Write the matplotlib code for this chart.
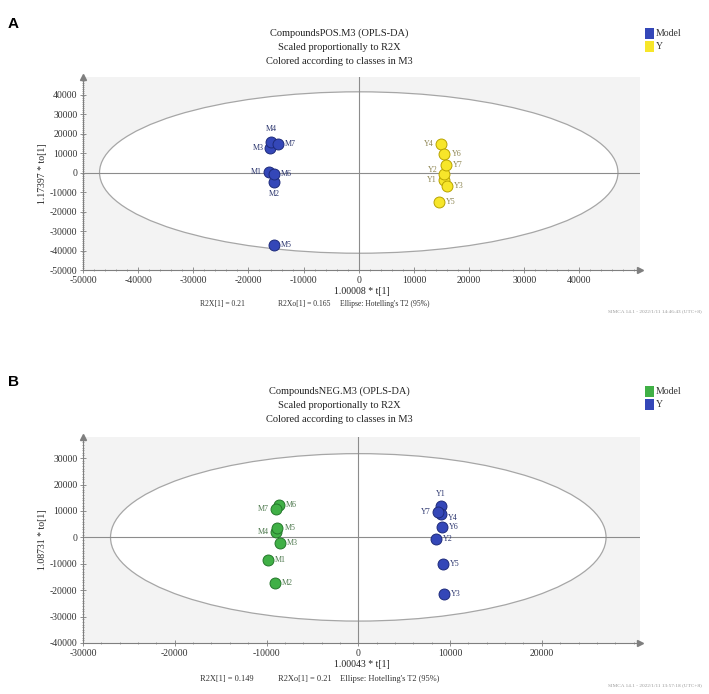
import matplotlib
matplotlib.use("Agg")
import matplotlib.pyplot as plt
from matplotlib.patches import Ellipse
from matplotlib.ticker import MultipleLocator, AutoMinorLocator

# ---------------- data ----------------
# Panel A (POS)
a_model_labels = ["M1", "M2", "M3", "M4", "M5", "M6", "M7"]
a_model_t = [-16300, -15340, -16030, -15890, -15340, -15340, -14660]
a_model_to = [170, -4750, 12370, 15760, -37290, -680, 14410]
a_y_labels = ["Y1", "Y2", "Y3", "Y4", "Y5", "Y6", "Y7"]
a_y_t = [15410, 15410, 15960, 14930, 14520, 15550, 15750]
a_y_to = [-4070, -680, -6950, 14580, -14920, 9490, 3900]
a_ellipse = (47000, 41400)  # Hotelling T2 semi-axes

# Panel B (NEG)
b_model_labels = ["M1", "M2", "M3", "M4", "M5", "M6", "M7"]
b_model_t = [-9880, -9050, -8570, -8970, -8810, -8650, -8970]
b_model_to = [-8490, -17250, -2060, 2060, 3600, 12360, 10810]
b_y_labels = ["Y1", "Y2", "Y3", "Y4", "Y5", "Y6", "Y7"]
b_y_t = [8970, 8490, 9370, 8970, 9210, 9130, 8690]
b_y_to = [11710, -770, -21620, 8750, -10170, 3990, 9780]
b_ellipse = (27000, 31700)

# ---------------- style ----------------
SERIF = ["Liberation Serif", "DejaVu Serif"]
plt.rcParams["font.family"] = SERIF
BLUE, BLUE_E = "#3447b8", "#1d2a7a"
YEL, YEL_E = "#f7e62a", "#b8a300"
GRN, GRN_E = "#40b046", "#23772a"
BG = "#f3f3f3"
AXC = "#7f7f7f"

W, H = 709, 694
fig = plt.figure(figsize=(W / 100, H / 100), dpi=100)


def fx(px):
    return px / W


def fy(py):
    return 1 - py / H


# label placement per panel (style only)
place_a_m = {"M1": "l", "M2": "b", "M3": "l", "M4": "t", "M5": "r", "M6": "r", "M7": "r"}
place_a_y = {"Y1": "l", "Y2": "lt", "Y3": "r", "Y4": "l", "Y5": "r", "Y6": "r", "Y7": "r"}
place_b_m = {"M1": "r", "M2": "r", "M3": "r", "M4": "l", "M5": "r", "M6": "r", "M7": "l"}
place_b_y = {"Y1": "t", "Y2": "r", "Y3": "r", "Y4": "rb", "Y5": "r", "Y6": "r", "Y7": "l"}

OFFS = {"r": (5, 0, "left", "center"), "l": (-5, 0, "right", "center"),
        "t": (0, 6, "center", "bottom"), "b": (0, -6, "center", "top"),
        "lt": (-4, 3, "right", "center"), "rb": (5, -3, "left", "center")}


def panel(rect, xlim, ylim, ell, groups, xlabel, ylabel):
    ax = fig.add_axes(rect)
    ax.set_facecolor(BG)
    ax.set_xlim(*xlim)
    ax.set_ylim(*ylim)
    for s in ("top", "right"):
        ax.spines[s].set_visible(False)
    for s in ("left", "bottom"):
        ax.spines[s].set_color(AXC)
        ax.spines[s].set_linewidth(0.8)
    ax.xaxis.set_major_locator(MultipleLocator(10000))
    ax.yaxis.set_major_locator(MultipleLocator(10000))
    ax.xaxis.set_minor_locator(AutoMinorLocator(5))
    ax.yaxis.set_minor_locator(AutoMinorLocator(10))
    ax.tick_params(which="major", length=4, width=0.6, color=AXC, labelsize=7,
                   direction="inout", pad=2, labelcolor="#333333")
    ax.tick_params(which="minor", length=2, width=0.5, color=AXC, direction="inout")
    xt = [t for t in ax.get_xticks() if xlim[0] <= t <= xlim[1] - 5000]
    ax.set_xticks(xt)
    ax.set_xticklabels([f"{int(t)}" for t in xt])
    yt = [t for t in ax.get_yticks() if ylim[0] <= t <= ylim[1] - 5000]
    ax.set_yticks(yt)
    ax.set_yticklabels([f"{int(t)}" for t in yt])
    ax.plot(1, 0, ">", color=AXC, ms=5, transform=ax.transAxes, clip_on=False)
    ax.plot(0, 1, "^", color=AXC, ms=5, transform=ax.transAxes, clip_on=False)
    e = Ellipse((0, 0), 2 * ell[0], 2 * ell[1], facecolor="white",
                edgecolor="#a6a6a6", lw=0.9, zorder=1)
    ax.add_patch(e)
    ax.axhline(0, color="#8c8c8c", lw=0.8, zorder=2)
    ax.axvline(0, color="#8c8c8c", lw=0.8, zorder=2)
    for xs, ys, labs, fc, ec, tc, place in groups:
        ax.scatter(xs, ys, s=62, facecolor=fc, edgecolor=ec, linewidth=0.7, zorder=4)
        for x, y, l in zip(xs, ys, labs):
            dx, dy, ha, va = OFFS[place[l]]
            ax.annotate(l, (x, y), xytext=(dx, dy), textcoords="offset points",
                        ha=ha, va=va, fontsize=5.8, color=tc, zorder=5)
    ax.set_xlabel(xlabel, fontsize=7, labelpad=2, color="#222222")
    ax.set_ylabel(ylabel, fontsize=7, labelpad=2, color="#222222")
    return ax


# ---------- Panel A ----------
axA = panel([fx(83), fy(270), fx(640) - fx(83), fy(77) - fy(270)],
            (-50000, 51000), (-50000, 49000), a_ellipse,
            [(a_model_t, a_model_to, a_model_labels, BLUE, BLUE_E, "#2b356e", place_a_m),
             (a_y_t, a_y_to, a_y_labels, YEL, YEL_E, "#8c8450", place_a_y)],
            "1.00008 * t[1]", "1.17397 * to[1]")

# ---------- Panel B ----------
axB = panel([fx(83), fy(643), fx(640) - fx(83), fy(437) - fy(643)],
            (-30000, 30700), (-40000, 38000), b_ellipse,
            [(b_model_t, b_model_to, b_model_labels, GRN, GRN_E, "#4f7a4f", place_b_m),
             (b_y_t, b_y_to, b_y_labels, BLUE, BLUE_E, "#2b356e", place_b_y)],
            "1.00043 * t[1]", "1.08731 * to[1]")


def block(title_lines, ytitle, ylegend, legend_items, footer, fsize, stamp,
          yfoot, ystamp, letter, yletter):
    for i, line in enumerate(title_lines):
        fig.text(fx(339), fy(ytitle + i * 14.3), line, ha="center", va="center",
                 fontsize=7.5, color="#222222")
    for i, (lab, col) in enumerate(legend_items):
        yy = ylegend + i * 13.5
        fig.patches.append(plt.Rectangle((fx(645), fy(yy + 5.5)), fx(9), fy(0) - fy(11),
                                         transform=fig.transFigure, facecolor=col,
                                         edgecolor="none"))
        fig.text(fx(656), fy(yy), lab, ha="left", va="center", fontsize=7,
                 color="#333333")
    xs = [200, 278, 340]
    for x, t in zip(xs, footer):
        fig.text(fx(x), fy(yfoot), t, ha="left", va="center", fontsize=fsize,
                 color="#333333")
    fig.text(fx(702), fy(ystamp), stamp, ha="right", va="center", fontsize=3.8,
             color="#9a9a9a")
    fig.text(fx(8), fy(yletter), letter, ha="left", va="center", fontsize=11,
             fontweight="bold", family=["Liberation Sans", "DejaVu Sans"])


block(["CompoundsPOS.M3 (OPLS-DA)", "Scaled proportionally to R2X",
       "Colored according to classes in M3"], 33, 33,
      [("Model", BLUE), ("Y", YEL)],
      ["R2X[1] = 0.21", "R2Xo[1] = 0.165", "Ellipse: Hotelling's T2 (95%)"], 5.5,
      "SIMCA 14.1 - 2022/1/11 14:46:43 (UTC+8)", 304, 311, "A", 24)

block(["CompoundsNEG.M3 (OPLS-DA)", "Scaled proportionally to R2X",
       "Colored according to classes in M3"], 391, 391,
      [("Model", GRN), ("Y", BLUE)],
      ["R2X[1] = 0.149", "R2Xo[1] = 0.21", "Ellipse: Hotelling's T2 (95%)"], 6,
      "SIMCA 14.1 - 2022/1/11 13:57:18 (UTC+8)", 679, 685, "B", 382)

fig.savefig("out.png", dpi=100)
